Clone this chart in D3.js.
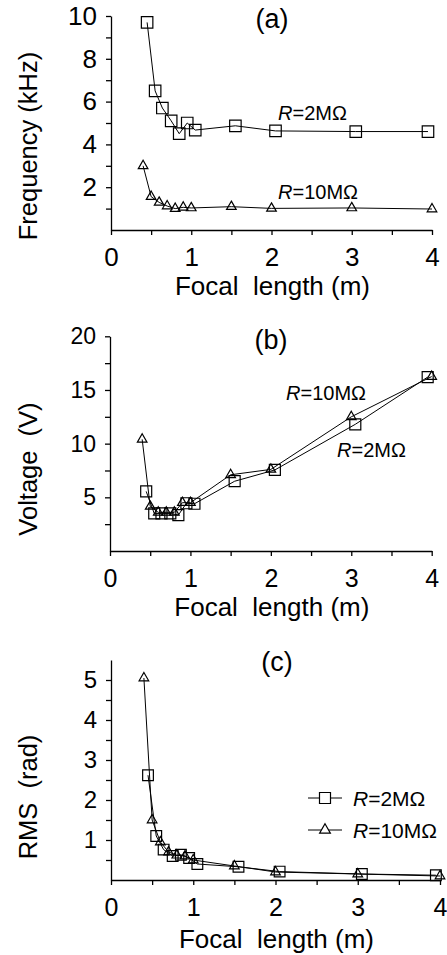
<!DOCTYPE html>
<html>
<head>
<meta charset="utf-8">
<title>Focal length plots</title>
<script src="https://d3js.org/d3.v7.min.js"></script>
<style>
  body { margin: 0; background: #fff; }
  text { font-family: "Liberation Sans", Arial, sans-serif; fill: #000; }
</style>
</head>
<body>
<script>
	var screenWidth  = 447;
	var screenHeight = 955;

	// focal lengths (m) - the squares sit a little right of the triangles
	var focal2M  = [0.45, 0.55, 0.64, 0.75, 0.85, 0.95, 1.05, 1.55, 2.05, 3.05, 3.95];
	var focal10M = [0.40, 0.50, 0.60, 0.70, 0.80, 0.90, 1.00, 1.50, 2.00, 3.00, 4.00];

	// (a) frequency, kHz
	var freq2M  = [9.7, 6.5, 5.7, 5.1, 4.5, 5.0, 4.67, 4.87, 4.63, 4.6, 4.6];
	var freq10M = [3.0, 1.56, 1.29, 1.12, 1.0, 1.06, 1.03, 1.09, 1.01, 1.03, 0.98];

	// (b) voltage, V
	var volt2M  = [5.55, 3.5, 3.5, 3.5, 3.35, 4.45, 4.4, 6.5, 7.55, 11.8, 16.2];
	var volt10M = [10.4, 4.15, 3.6, 3.6, 3.6, 4.5, 4.5, 7.1, 7.6, 12.5, 16.25];

	// (c) RMS, rad
	var rms2M  = [2.62, 1.1, 0.76, 0.6, 0.63, 0.55, 0.4, 0.33, 0.21, 0.15, 0.12];
	var rms10M = [5.05, 1.5, 0.95, 0.7, 0.62, 0.6, 0.5, 0.35, 0.2, 0.15, 0.1];

	// ticks and labels
	var xTicks      = [0, 0.5, 1, 1.5, 2, 2.5, 3, 3.5, 4];
	var xLabels     = [0, 1, 2, 3, 4];
	var freqTicks   = [1, 2, 3, 4, 5, 6, 7, 8, 9, 10];
	var freqLabels  = [2, 4, 6, 8, 10];
	var voltTicks   = [2.5, 5, 7.5, 10, 12.5, 15, 17.5, 20];
	var voltLabels  = [5, 10, 15, 20];
	var rmsTicks    = [0.5, 1, 1.5, 2, 2.5, 3, 3.5, 4, 4.5, 5];
	var rmsLabels   = [1, 2, 3, 4, 5];

	var svg = d3.select("body").append("svg")
		.attr("width", screenWidth)
		.attr("height", screenHeight);

	function zip(xs, ys) {
		return xs.map((x, i) => [x, ys[i]]);
	}

	function rLabel(g, x, y, txt, size) {
		var t = g.append("text").attr("x", x).attr("y", y).attr("font-size", size);
		t.append("tspan").attr("font-style", "italic").text("R");
		t.append("tspan").text(txt);
		return t;
	}

	function drawPanel(p) {
		var g = svg.append("g");
		var xScale = d3.scaleLinear().domain([0, 4]).range(p.xRange);
		var yScale = d3.scaleLinear().domain(p.yDomain).range(p.yRange);

		var xAxis = d3.axisBottom(xScale).tickValues(xTicks).tickSize(5).tickSizeOuter(0)
			.tickPadding(13).tickFormat(d => xLabels.indexOf(d) >= 0 ? d : "");
		var yAxis = d3.axisLeft(yScale).tickValues(p.yTicks).tickSize(5).tickSizeOuter(0)
			.tickPadding(9).tickFormat(d => p.yLabels.indexOf(d) >= 0 ? d : "");

		var gx = g.append("g").attr("transform", "translate(0," + p.yRange[0] + ")").call(xAxis);
		var gy = g.append("g").attr("transform", "translate(" + p.xRange[0] + ",0)").call(yAxis);
		[gx, gy].forEach(a => {
			a.attr("font-family", null);
			a.selectAll("path,line").attr("stroke", "#000").attr("stroke-width", 1.3);
		});
		gx.attr("font-size", p.xFont);
		gy.attr("font-size", p.yFont);

		// axis titles
		g.append("text").attr("x", (p.xRange[0] + p.xRange[1]) / 2 + 1).attr("y", p.xTitleY)
			.attr("text-anchor", "middle").attr("font-size", 26)
			.attr("xml:space", "preserve").text("Focal  length (m)");
		g.append("text").attr("transform", "translate(37," + p.yTitleY + ") rotate(-90)")
			.attr("text-anchor", "middle").attr("font-size", 25.5)
			.attr("xml:space", "preserve").text(p.yTitle);

		// panel letter
		g.append("text").attr("x", p.tag[0]).attr("y", p.tag[1]).attr("text-anchor", "middle")
			.attr("font-size", 27).text(p.tag[2]);

		var line = d3.line().x(d => xScale(d[0])).y(d => yScale(d[1]));
		var sq  = d3.symbol().type(d3.symbolSquare).size(p.sqSize);
		var tri = d3.symbol().type(d3.symbolTriangle).size(40);

		p.series.forEach(s => {
			var pts = zip(s.x, s.y);
			g.append("path").datum(pts).attr("d", line)
				.attr("fill", "none").attr("stroke", "#000").attr("stroke-width", 1);
			g.selectAll(null).data(pts).enter().append("path")
				.attr("transform", d => "translate(" + xScale(d[0]) + "," + yScale(d[1]) + ")")
				.attr("d", s.shape == "square" ? sq : tri)
				.attr("fill", "none").attr("stroke", "#000").attr("stroke-width", 1.2);
		});
		return g;
	}

	var ga = drawPanel({
		xRange: [111, 432], yRange: [230, 16], yDomain: [0, 10],
		yTicks: freqTicks, yLabels: freqLabels, xFont: 26, yFont: 26,
		xTitleY: 295, yTitle: "Frequency (kHz)", yTitleY: 146,
		tag: [272, 28, "(a)"], sqSize: 132,
		series: [{x: focal2M, y: freq2M, shape: "square"}, {x: focal10M, y: freq10M, shape: "triangle"}]
	});
	rLabel(ga, 278, 120, "=2MΩ", 20);
	rLabel(ga, 278, 199, "=10MΩ", 20);

	var gb = drawPanel({
		xRange: [110, 431.7], yRange: [551, 336.3], yDomain: [0, 20],
		yTicks: voltTicks, yLabels: voltLabels, xFont: 25, yFont: 23,
		xTitleY: 616, yTitle: "Voltage  (V)", yTitleY: 469,
		tag: [271, 349, "(b)"], sqSize: 121,
		series: [{x: focal2M, y: volt2M, shape: "square"}, {x: focal10M, y: volt10M, shape: "triangle"}]
	});
	rLabel(gb, 286, 400, "=10MΩ", 20);
	rLabel(gb, 337, 457, "=2MΩ", 20);

	var gc = drawPanel({
		xRange: [111, 440], yRange: [880, 660], yDomain: [0, 5.5],
		yTicks: rmsTicks, yLabels: rmsLabels, xFont: 25, yFont: 24,
		xTitleY: 948, yTitle: "RMS  (rad)", yTitleY: 797,
		tag: [277, 671, "(c)"], sqSize: 115,
		series: [{x: focal2M, y: rms2M, shape: "square"}, {x: focal10M, y: rms10M, shape: "triangle"}]
	});

	// legend in (c)
	var legend = [{shape: d3.symbolSquare, size: 121, y: 798, txt: "=2MΩ"},
	              {shape: d3.symbolTriangle, size: 50, y: 830, txt: "=10MΩ"}];
	legend.forEach(l => {
		gc.append("line").attr("x1", 308).attr("x2", 342).attr("y1", l.y).attr("y2", l.y)
			.attr("stroke", "#000").attr("stroke-width", 1);
		gc.append("path").attr("transform", "translate(325," + l.y + ")")
			.attr("d", d3.symbol().type(l.shape).size(l.size)())
			.attr("fill", "#fff").attr("stroke", "#000").attr("stroke-width", 1.2);
		rLabel(gc, 353, l.y + 8, l.txt, 21);
	});
</script>
</body>
</html>
